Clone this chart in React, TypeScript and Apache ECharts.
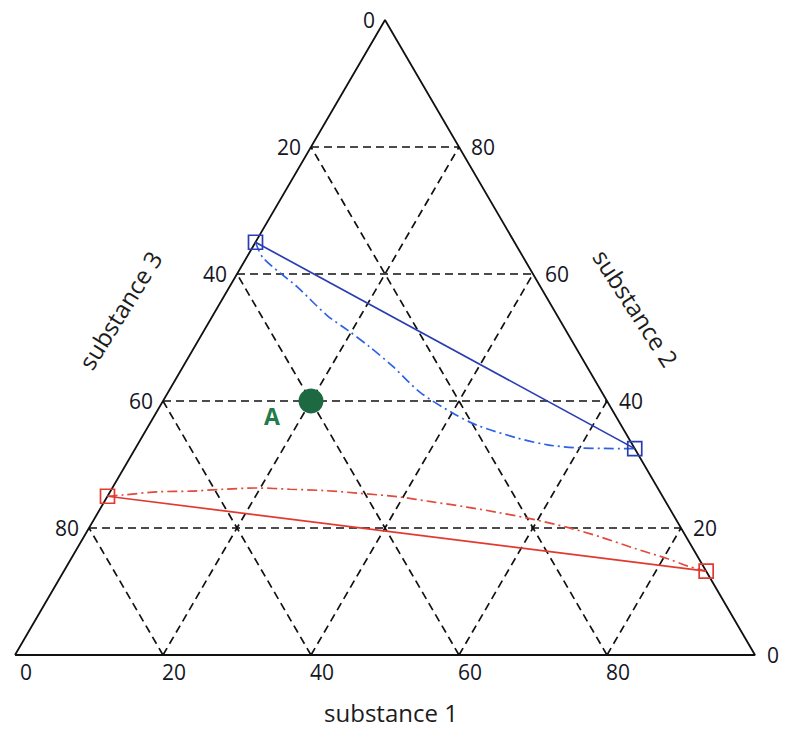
import React, { useEffect, useRef } from "react";
import * as echarts from "echarts";

// Ternary compositions given as [substance 1, substance 2] (substance 3 = 100 - s1 - s2)
const gridLevels = [20, 40, 60, 80];
const tickValues = [0, 20, 40, 60, 80];
const tickLabels = ["0", "20", "40", "60", "80"];

const blueTieLine: [number, number][] = [[0, 65], [67.5, 32.5]];
const blueCurve: [number, number][] = [
  [0, 65], [2.3, 62.5], [9.1, 58.0], [15.4, 53.5], [19.3, 51.2], [23.7, 48.5],
  [28.4, 45.4], [34.0, 41.4], [40.1, 38.1], [44.3, 36.2], [50.7, 34.2],
  [55.4, 33.1], [60.1, 32.6], [67.5, 32.5],
];
const redTieLine: [number, number][] = [[0, 25], [86.8, 13.2]];
const redCurve: [number, number][] = [
  [0, 25], [2.0, 25.2], [6.4, 25.7], [10.7, 25.8], [15.0, 26.1], [19.6, 26.3],
  [24.1, 26.1], [28.7, 25.9], [33.5, 25.5], [39.4, 24.9], [44.4, 24.1],
  [49.4, 23.3], [54.3, 22.4], [59.2, 21.4], [64.6, 20.1], [69.8, 18.6],
  [75.3, 16.8], [80.5, 15.2], [83.9, 14.0], [86.8, 13.2],
];
const pointA: [number, number] = [20, 40];
const pointALabel = "A";

const axisTitles = ["substance 1", "substance 2", "substance 3"];

const H = Math.sqrt(3) / 2;
const toXY = (p: [number, number]) => [p[0] + p[1] / 2, p[1] * H];

export default function App() {
  const ref = useRef<HTMLDivElement>(null);
  useEffect(() => {
    if (!ref.current) return;
    const chart = echarts.init(ref.current, null, { renderer: "svg" });

    const gridSegs: [number, number][][] = [];
    gridLevels.forEach((v) => {
      gridSegs.push([[0, v], [100 - v, v]]); // constant s2
      gridSegs.push([[v, 0], [v, 100 - v]]); // constant s1
      gridSegs.push([[100 - v, 0], [0, 100 - v]]); // constant s3
    });

    const gridSeries = gridSegs.map((seg) => ({
      type: "line",
      data: seg.map(toXY),
      symbol: "none",
      silent: true,
      lineStyle: { color: "#111", width: 1.7, type: [8, 5] },
      z: 1,
    }));

    const edge: [number, number][] = [[0, 0], [100, 0], [0, 100], [0, 0]];

    const labelFont = { fontFamily: "Open Sans", fontSize: 21, color: "#15151f" };

    const bottomTicks = tickValues.map((v, i) => ({ name: tickLabels[i], value: toXY([v, 0]) }));
    const leftTicks = tickValues.map((v, i) => ({ name: tickLabels[i], value: toXY([0, 100 - v]) }));
    const rightTicks = tickValues.map((v, i) => ({ name: tickLabels[i], value: toXY([100 - v, v]) }));

    const tickSeries = (data: any[], label: any) => ({
      type: "scatter",
      data,
      symbolSize: 0,
      silent: true,
      itemStyle: { opacity: 1 },
      label: { show: true, formatter: (p: any) => p.name, ...labelFont, ...label },
      z: 5,
    });

    chart.setOption({
      animation: false,
      grid: { left: 15, right: 31, top: 20, bottom: 75 },
      xAxis: { type: "value", min: 0, max: 100, show: false },
      yAxis: { type: "value", min: 0, max: 100 * H, show: false },
      series: [
        ...gridSeries,
        {
          type: "line",
          data: edge.map(toXY),
          symbol: "none",
          silent: true,
          lineStyle: { color: "#111", width: 1.8 },
          z: 2,
        },
        {
          type: "line",
          data: blueCurve.map(toXY),
          symbol: "none",
          smooth: 0.3,
          lineStyle: { color: "#2d62e6", width: 1.7, type: [10, 4, 2, 4] },
          z: 3,
        },
        {
          type: "line",
          data: blueTieLine.map(toXY),
          symbol: "rect",
          symbolSize: 14,
          itemStyle: { color: "transparent", borderColor: "#2a3db3", borderWidth: 1.7 },
          lineStyle: { color: "#2a3db3", width: 1.7 },
          z: 4,
        },
        {
          type: "line",
          data: redCurve.map(toXY),
          symbol: "none",
          smooth: 0.3,
          lineStyle: { color: "#e2493c", width: 1.7, type: [10, 4, 2, 4] },
          z: 3,
        },
        {
          type: "line",
          data: redTieLine.map(toXY),
          symbol: "rect",
          symbolSize: 14,
          itemStyle: { color: "transparent", borderColor: "#e03a30", borderWidth: 1.7 },
          lineStyle: { color: "#e03a30", width: 1.7 },
          z: 4,
        },
        {
          type: "scatter",
          data: [{ name: pointALabel, value: toXY(pointA) }],
          symbolSize: 25,
          itemStyle: { color: "#1d6a42", opacity: 1 },
          label: {
            show: true,
            formatter: (p: any) => p.name,
            position: "inside",
            offset: [-39, 15],
            fontFamily: "Open Sans",
            fontSize: 23,
            fontWeight: "bold",
            color: "#237a4a",
          },
          z: 6,
        },
        tickSeries(bottomTicks, { position: "bottom", distance: 6, offset: [11, 0] }),
        tickSeries(leftTicks, { position: "left", distance: 10 }),
        tickSeries(rightTicks, { position: "right", distance: 12 }),
      ],
      graphic: [
        {
          type: "text",
          x: 391,
          y: 712,
          style: {
            text: axisTitles[0],
            font: "24px 'Open Sans'",
            fill: "#1c1c1c",
            textAlign: "center",
            textVerticalAlign: "middle",
          },
        },
        {
          type: "text",
          x: 636,
          y: 308,
          rotation: (-57 * Math.PI) / 180,
          style: {
            text: axisTitles[1],
            font: "24px 'Open Sans'",
            fill: "#1c1c1c",
            textAlign: "center",
            textVerticalAlign: "middle",
          },
        },
        {
          type: "text",
          x: 120,
          y: 310,
          rotation: (58 * Math.PI) / 180,
          style: {
            text: axisTitles[2],
            font: "24px 'Open Sans'",
            fill: "#1c1c1c",
            textAlign: "center",
            textVerticalAlign: "middle",
          },
        },
      ],
    });
    return () => chart.dispose();
  }, []);
  return (
    <div
      ref={ref}
      style={{ position: "fixed", left: 0, top: 0, width: 786, height: 730, background: "#fff" }}
    />
  );
}
